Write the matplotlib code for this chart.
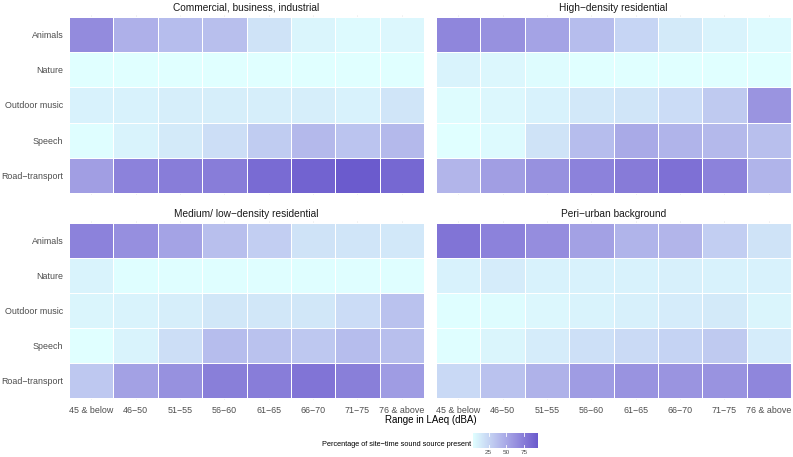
import numpy as np
import matplotlib
matplotlib.use("Agg")
import matplotlib.pyplot as plt
from matplotlib.colors import ListedColormap, Normalize

plt.rcParams['font.family'] = ['Liberation Sans', 'DejaVu Sans']

sources = ["Animals", "Nature", "Outdoor music", "Speech", "Road\u2212transport"]
ranges = ["45 & below", "46\u221250", "51\u221255", "56\u221260", "61\u221265", "66\u221270", "71\u221275", "76 & above"]
facets = ["Commercial, business, industrial", "High\u2212density residential",
          "Medium/ low\u2212density residential", "Peri\u2212urban background"]

commercial = [
    [65, 45, 38, 37, 18, 8, 6, 7],
    [3, 3, 3, 3, 3, 3, 3, 3],
    [10, 10, 12, 12, 12, 12, 10, 17],
    [4, 9, 14, 20, 30, 40, 34, 40],
    [55, 70, 73, 73, 83, 88, 92, 85],
]
high_density = [
    [68, 62, 52, 38, 25, 14, 9, 6],
    [9, 7, 5, 3, 3, 3, 3, 3],
    [5, 7, 10, 15, 17, 21, 31, 60],
    [3, 6, 18, 38, 48, 43, 40, 37],
    [42, 55, 62, 70, 74, 80, 70, 43],
]
medium_low = [
    [70, 63, 52, 37, 29, 18, 17, 15],
    [9, 4, 4, 4, 4, 4, 4, 4],
    [8, 9, 12, 16, 16, 16, 21, 35],
    [3, 9, 20, 38, 35, 32, 38, 37],
    [32, 53, 62, 72, 73, 78, 72, 56],
]
peri_urban = [
    [78, 70, 64, 53, 43, 42, 29, 18],
    [10, 13, 10, 10, 10, 11, 10, 10],
    [4, 5, 7, 9, 11, 13, 14, 8],
    [4, 8, 13, 19, 22, 26, 31, 13],
    [23, 35, 44, 56, 61, 60, 61, 68],
]
facet_data = [commercial, high_density, medium_low, peri_urban]
vmin, vmax = 3, 93
cbar_ticks = [25, 50, 75]

# Lab-space gradient like ggplot2 scale_fill_gradient
def srgb2lab(rgb):
    c = np.asarray(rgb, float) / 255.0
    lin = np.where(c <= 0.04045, c / 12.92, ((c + 0.055) / 1.055) ** 2.4)
    M = np.array([[0.4124, 0.3576, 0.1805], [0.2126, 0.7152, 0.0722], [0.0193, 0.1192, 0.9505]])
    xyz = M @ lin
    xyz = xyz / np.array([0.95047, 1.0, 1.08883])
    f = np.where(xyz > 0.008856, np.cbrt(xyz), 7.787 * xyz + 16 / 116)
    return np.array([116 * f[1] - 16, 500 * (f[0] - f[1]), 200 * (f[1] - f[2])])

def lab2srgb(lab):
    L, a, b = lab
    fy = (L + 16) / 116
    fx = fy + a / 500
    fz = fy - b / 200
    f = np.array([fx, fy, fz])
    xyz = np.where(f ** 3 > 0.008856, f ** 3, (f - 16 / 116) / 7.787)
    xyz = xyz * np.array([0.95047, 1.0, 1.08883])
    Minv = np.array([[3.2406, -1.5372, -0.4986], [-0.9689, 1.8758, 0.0415], [0.0557, -0.2040, 1.0570]])
    lin = Minv @ xyz
    lin = np.clip(lin, 0, 1)
    c = np.where(lin <= 0.0031308, 12.92 * lin, 1.055 * lin ** (1 / 2.4) - 0.055)
    return np.clip(c, 0, 1)

lo = srgb2lab([224, 255, 255])
hi = srgb2lab([106, 90, 205])
cols = [lab2srgb(lo + (hi - lo) * t) for t in np.linspace(0, 1, 256)]
cmap = ListedColormap(cols)
norm = Normalize(vmin=vmin, vmax=vmax)

W, H = 793, 457
fig = plt.figure(figsize=(W / 100, H / 100), dpi=100)

def px_axes(x0, y0, x1, y1):
    return fig.add_axes([x0 / W, 1 - y1 / H, (x1 - x0) / W, (y1 - y0) / H])

boxes = [(69, 15, 424, 195), (436, 15, 791, 195), (69, 221, 424, 400), (436, 221, 791, 400)]
tick_col = "#4d4d4d"
for i, (box, title, data) in enumerate(zip(boxes, facets, facet_data)):
    ax = px_axes(*box)
    arr = np.array(data, float)
    nx, ny = len(ranges), len(sources)
    for gx in range(nx):
        ax.axvline(gx, color="#ebebeb", lw=0.5, zorder=0)
    for gy in range(ny):
        ax.axhline(gy, color="#ebebeb", lw=0.5, zorder=0)
    ax.pcolormesh(np.arange(nx + 1) - 0.5, np.arange(ny + 1) - 0.5, arr, cmap=cmap, norm=norm,
                  edgecolors="white", linewidth=0.6, zorder=1)
    ax.set_xlim(-0.5, nx - 0.5)
    ax.set_ylim(ny - 0.5 + 0.06, -0.5 - 0.06)
    for s in ax.spines.values():
        s.set_visible(False)
    ax.set_xticks(range(nx))
    ax.set_yticks(range(ny))
    ax.tick_params(length=0, labelsize=6.4, colors=tick_col, pad=4)
    if i >= 2:
        ax.set_xticklabels(ranges)
    else:
        ax.set_xticklabels([])
    if i % 2 == 0:
        ax.set_yticklabels(sources)
    else:
        ax.set_yticklabels([])
    ax.set_title(title, fontsize=7.3, color="#1a1a1a", pad=3)

fig.text(431 / W, 1 - 420 / H, "Range in LAeq (dBA)", ha="center", va="center", fontsize=7.0, color="black")

cax = px_axes(473, 433, 537, 448)
grad = np.linspace(vmin, vmax, 256).reshape(1, -1)
cax.imshow(grad, cmap=cmap, norm=norm, aspect="auto", extent=[vmin, vmax, 0, 1])
for t in cbar_ticks:
    cax.plot([t, t], [0, 0.2], color="white", lw=0.6)
    cax.plot([t, t], [0.8, 1], color="white", lw=0.6)
cax.set_xlim(vmin, vmax)
cax.set_ylim(0, 1)
cax.set_yticks([])
cax.set_xticks(cbar_ticks)
cax.tick_params(length=0, labelsize=4.6, colors=tick_col, pad=1.5)
for s in cax.spines.values():
    s.set_visible(False)
fig.text(471 / W, 1 - 445 / H, "Percentage of site\u2212time sound source present", ha="right", va="center",
         fontsize=5.3, color="black")

fig.savefig("out.png", dpi=100)
